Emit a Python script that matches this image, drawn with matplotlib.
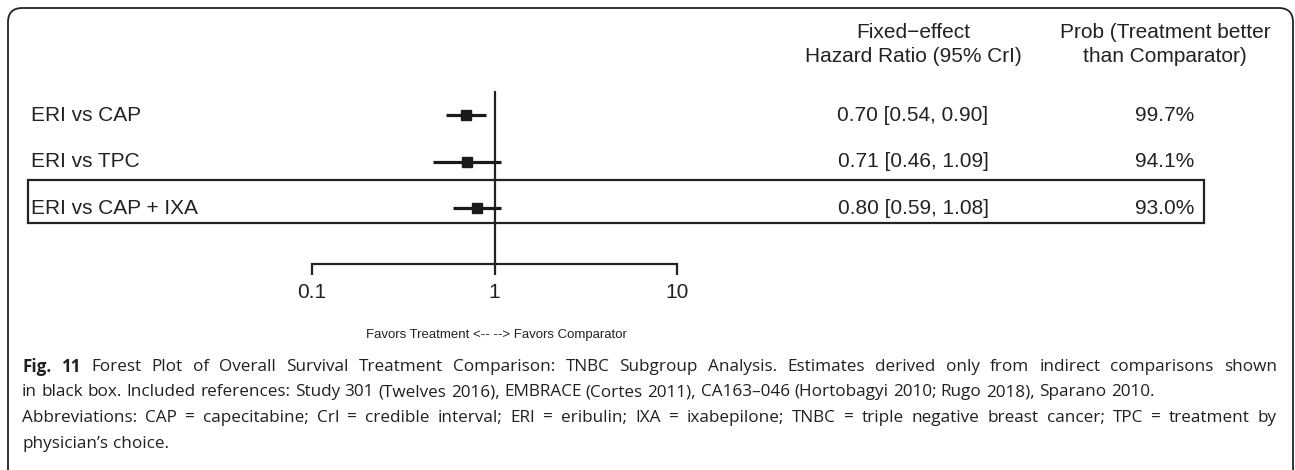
import matplotlib
matplotlib.use("Agg")
import matplotlib.pyplot as plt
import matplotlib.transforms as mtransforms
from matplotlib.patches import FancyBboxPatch, Rectangle

# data
comparisons = ["ERI vs CAP", "ERI vs TPC", "ERI vs CAP + IXA"]
hr = [0.70, 0.71, 0.80]
lower = [0.54, 0.46, 0.59]
upper = [0.90, 1.09, 1.08]
prob_better = ["99.7%", "94.1%", "93.0%"]
indirect_only = [False, False, True]
xticks = [0.1, 1, 10]
xtick_labels = ["0.1", "1", "10"]

caption_lines = [
    "Forest Plot of Overall Survival Treatment Comparison: TNBC Subgroup Analysis. Estimates derived only from indirect comparisons shown",
    "in black box. Included references: Study 301 (Twelves 2016), EMBRACE (Cortes 2011), CA163\u2013046 (Hortobagyi 2010; Rugo 2018), Sparano 2010.",
    "Abbreviations: CAP = capecitabine; CrI = credible interval; ERI = eribulin; IXA = ixabepilone; TNBC = triple negative breast cancer; TPC = treatment by",
    "physician\u2019s choice.",
]
justified = [True, False, True, False]

W, H = 1295, 470
fig = plt.figure(figsize=(W / 100, H / 100), dpi=100)
plt.rcParams['font.family'] = ['Liberation Sans', 'DejaVu Sans']
ink = "#222222"

def fx(px):
    return px / W

def fy(py):
    return 1 - py / H

# outer rounded frame
frame = FancyBboxPatch((fx(8), fy(490)), fx(1285), fy(8) - fy(490),
                       boxstyle="round,pad=0,rounding_size=0.011",
                       transform=fig.transFigure, fill=False,
                       edgecolor=ink, linewidth=1.3, clip_on=False,
                       mutation_aspect=W / H)
fig.patches.append(frame)

# forest axes: 0.1 -> x 312 px, 10 -> x 677 px
ax = fig.add_axes([fx(312), fy(264), fx(677) - fx(312), fy(91) - fy(264)])
ax.set_xscale("log")
ax.set_xlim(0.1, 10)
ax.set_ylim(3.2, -0.52)
rows = list(range(len(comparisons)))

ax.axvline(1, color=ink, linewidth=1.6)
ax.hlines(rows, lower, upper, color="#1a1a1a", linewidth=2.3)
ax.plot(hr, rows, "s", color="#1a1a1a", markersize=7)

for s in ["top", "right", "left"]:
    ax.spines[s].set_visible(False)
ax.spines["bottom"].set_linewidth(1.6)
ax.spines["bottom"].set_color(ink)
ax.set_yticks([])
ax.set_xticks(xticks)
ax.set_xticklabels(xtick_labels)
ax.xaxis.set_minor_locator(matplotlib.ticker.NullLocator())
ax.tick_params(axis="x", direction="out", length=8, width=1.6, color=ink,
               labelsize=15, pad=6, labelcolor=ink)

tr = mtransforms.blended_transform_factory(fig.transFigure, ax.transData)

for i, name in enumerate(comparisons):
    ax.text(fx(31), i, name, transform=tr, ha="left", va="center",
            fontsize=15, color=ink)
    ax.text(fx(913), i, f"{hr[i]:.2f} [{lower[i]:.2f}, {upper[i]:.2f}]",
            transform=tr, ha="center", va="center", fontsize=15, color=ink)
    ax.text(fx(1165), i, prob_better[i], transform=tr, ha="center",
            va="center", fontsize=15, color=ink)
    if indirect_only[i]:
        box = Rectangle((fx(28), i - 0.6), fx(1204) - fx(28), 0.92,
                        transform=tr, fill=False, edgecolor=ink,
                        linewidth=1.6, clip_on=False)
        ax.add_patch(box)

fig.text(fx(913), fy(33), "Fixed\u2212effect", ha="center", va="center",
         fontsize=15, color=ink)
fig.text(fx(913), fy(56), "Hazard Ratio (95% CrI)", ha="center", va="center",
         fontsize=15, color=ink)
fig.text(fx(1165), fy(33), "Prob (Treatment better", ha="center", va="center",
         fontsize=15, color=ink)
fig.text(fx(1165), fy(56), "than Comparator)", ha="center", va="center",
         fontsize=15, color=ink)

fig.text(fx(496), fy(335), "Favors Treatment <-- --> Favors Comparator",
         ha="center", va="center", fontsize=9.5, color=ink)

# caption, lines 1 and 3 justified to the right margin
cap_fam = ["Open Sans", "DejaVu Sans"]
cap_size = 12.3
cap_col = "#231f20"
left_px, right_px = 22, 1277
renderer = fig.canvas.get_renderer()

def word_width(w, bold=False):
    t = fig.text(0, 0, w, fontsize=cap_size, family=cap_fam,
                 fontweight="bold" if bold else "normal")
    wd = t.get_window_extent(renderer).width
    t.remove()
    return wd

space = word_width("a a") - word_width("aa")
for k, line in enumerate(caption_lines):
    y = fy(367 + 25.5 * k)
    words = line.split(" ")
    bolds = [False] * len(words)
    if k == 0:
        words = ["Fig.", "11"] + words
        bolds = [True, True] + bolds
    widths = [word_width(w, b) for w, b in zip(words, bolds)]
    gap = space
    if justified[k]:
        gap = (right_px - left_px - sum(widths)) / (len(words) - 1)
    x = left_px
    for w, b, wd in zip(words, bolds, widths):
        fig.text(fx(x), y, w, ha="left", va="center", fontsize=cap_size,
                 family=cap_fam, fontweight="bold" if b else "normal",
                 color=cap_col)
        x += wd + gap

fig.savefig("out.png", dpi=100)
